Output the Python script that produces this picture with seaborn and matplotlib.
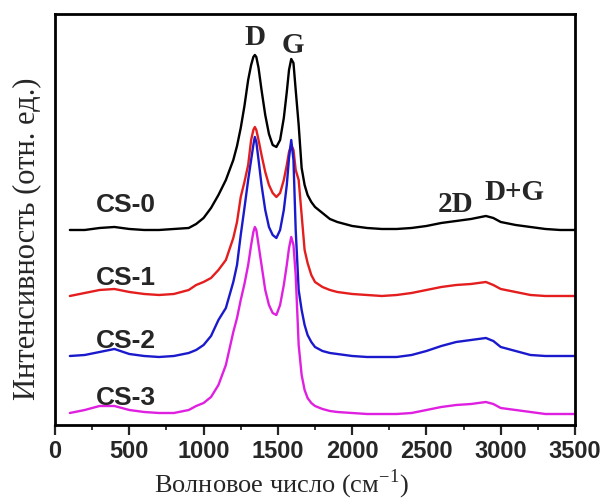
import numpy as np
import pandas as pd
import matplotlib
matplotlib.use("Agg")
import matplotlib.pyplot as plt
from matplotlib.ticker import MultipleLocator
import seaborn as sns

# wavenumber grid (cm-1) and stacked Raman intensities (a.u.)
wavenumber = [100, 200, 300, 400, 500, 600, 700, 800, 900, 950, 1000, 1050, 1100,
              1150, 1200, 1225, 1250, 1275, 1300, 1320, 1335, 1345, 1355, 1370, 1390,
              1415, 1440, 1465, 1490, 1515, 1540, 1560, 1575, 1590, 1605, 1620, 1640,
              1660, 1680, 1700, 1725, 1750, 1800, 1850, 1900, 2000, 2100, 2200, 2300,
              2400, 2500, 2600, 2700, 2800, 2900, 2950, 3000, 3100, 3200, 3300, 3400,
              3500]

cs0 = [195, 195, 197, 198, 196, 195, 195, 196, 197, 201, 207, 217, 230,
       245, 265, 279, 297, 319, 345, 360, 368, 370, 368, 357, 335,
       310, 291, 280, 278, 285, 307, 333, 355, 366, 362, 335, 300,
       257, 240, 230, 223, 218, 212, 206, 203, 199, 197, 196, 196,
       197, 199, 202, 204, 206, 209, 207, 203, 200, 198, 196, 195,
       195]
cs1 = [129, 132, 135, 136, 133, 131, 130, 131, 135, 140, 143, 147, 155,
       165, 187, 203, 228, 243, 260, 285, 295, 298, 295, 285, 270,
       253, 240, 232, 228, 232, 245, 260, 273, 280, 275, 255, 245,
       210, 175, 162, 150, 143, 138, 135, 133, 131, 130, 129, 130,
       132, 135, 138, 140, 141, 143, 140, 136, 133, 130, 129, 129,
       129]
cs2 = [69, 70, 73, 76, 71, 69, 68, 69, 72, 75, 80, 89, 105,
       117, 143, 160, 190, 217, 245, 265, 280, 288, 283, 265, 240,
       215, 198, 190, 187, 195, 215, 240, 267, 285, 265, 195, 135,
       115, 100, 90, 83, 78, 74, 72, 71, 69, 68, 68, 68,
       70, 74, 79, 83, 85, 87, 84, 78, 74, 70, 69, 69,
       69]
cs3 = [12, 15, 19, 19, 15, 13, 12, 12, 15, 19, 22, 28, 40,
       60, 93, 107, 125, 141, 160, 180, 193, 198, 195, 180, 160,
       135, 120, 112, 110, 120, 140, 160, 177, 188, 180, 150, 80,
       50, 35, 27, 22, 19, 16, 14, 13, 12, 11, 11, 11,
       12, 15, 18, 20, 21, 23, 21, 17, 15, 13, 11, 11,
       11]

samples = ["CS-0", "CS-1", "CS-2", "CS-3"]
colors = ["#000000", "#e41e1e", "#1a1acc", "#e020e0"]

df = pd.concat([
    pd.DataFrame({"wavenumber": wavenumber, "intensity": vals, "sample": name})
    for name, vals in zip(samples, [cs0, cs1, cs2, cs3])
])

sns.set_style("ticks")
plt.rcParams["mathtext.fontset"] = "custom"
plt.rcParams["mathtext.rm"] = "Liberation Serif"

fig = plt.figure(figsize=(6.14, 4.99), dpi=100)
ax = fig.add_axes([0.0896, 0.1483, 0.8469, 0.8237])

sns.lineplot(data=df, x="wavenumber", y="intensity", hue="sample",
             palette=dict(zip(samples, colors)), linewidth=1.7,
             legend=False, ax=ax, sort=False)

ax.set_xlim(0, 3500)
ax.set_ylim(0, 411)
ax.xaxis.set_major_locator(MultipleLocator(500))
ax.xaxis.set_minor_locator(MultipleLocator(250))
ax.set_yticks([])
ax.tick_params(axis="x", which="major", direction="out", length=7, width=1.6, pad=4)
ax.tick_params(axis="x", which="minor", direction="out", length=3.5, width=1.3)
for lbl in ax.get_xticklabels():
    lbl.set_family("Liberation Sans")
    lbl.set_fontweight("bold")
    lbl.set_fontsize(17)
for sp in ax.spines.values():
    sp.set_visible(True)
    sp.set_linewidth(2)
    sp.set_color("black")

ax.set_xlabel("")
ax.set_ylabel("")
fig.text(281 / 614, 1 - 492 / 499, "Волновое число (см$^{\\mathregular{-1}}$)",
         family="Liberation Serif", fontsize=19, ha="center", va="baseline")
fig.text(27 / 614, 1 - 239 / 499, "Интенсивность (отн. ед.)",
         family="Liberation Serif", fontsize=22, rotation=90, ha="center", va="center")

# sample labels (baseline positions)
label_y = [213, 140, 77, 20]
for name, y in zip(samples, label_y):
    ax.text(480, y, name, family="Liberation Sans", fontweight="bold",
            fontsize=19, ha="center", va="baseline")

# band labels
for txt, x, y in [("D", 1345, 380), ("G", 1601, 372), ("2D", 2693, 213), ("D+G", 3095, 225)]:
    ax.text(x, y, txt, family="Liberation Serif", fontweight="bold",
            fontsize=21, ha="center", va="baseline")

fig.savefig("out.png", dpi=100)
